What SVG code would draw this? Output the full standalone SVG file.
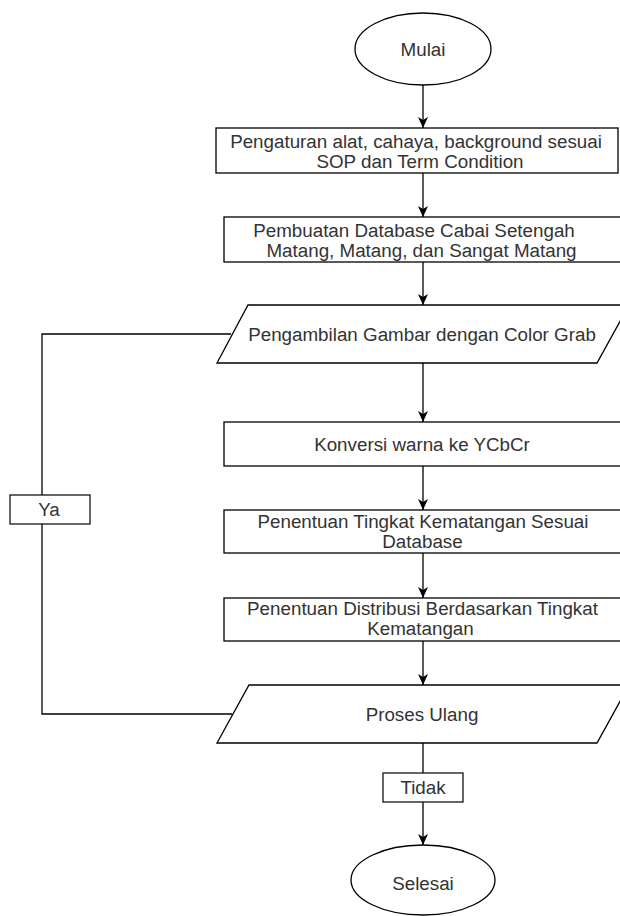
<svg xmlns="http://www.w3.org/2000/svg" width="620" height="916" viewBox="0 0 620 916">
<style>
  .shape { fill: #fff; stroke: #000; stroke-width: 1.3; }
  .lbl { fill: #fff; stroke: #000; stroke-width: 1.2; }
  .edge { fill: none; stroke: #000; stroke-width: 1.3; }
  text { font-family: "Liberation Sans", Arial, sans-serif; font-size: 18.8px; fill: #333; text-anchor: middle; }
</style>
<defs>
  <marker id="arrow" markerUnits="userSpaceOnUse" markerWidth="12" markerHeight="12" viewBox="0 0 12 10" refX="11" refY="5" orient="auto">
    <path d="M0,0 L11,5 L0,10 L3,5 z" fill="#000"/>
  </marker>
</defs>
<rect width="620" height="916" fill="#fff"/>
<g id="connectors">
  <line class="edge" x1="423" y1="85" x2="423" y2="128" marker-end="url(#arrow)"/>
  <line class="edge" x1="423" y1="173" x2="423" y2="217" marker-end="url(#arrow)"/>
  <line class="edge" x1="423" y1="262" x2="423" y2="305" marker-end="url(#arrow)"/>
  <line class="edge" x1="423" y1="363" x2="423" y2="422" marker-end="url(#arrow)"/>
  <line class="edge" x1="423" y1="466" x2="423" y2="510" marker-end="url(#arrow)"/>
  <line class="edge" x1="423" y1="553" x2="423" y2="598" marker-end="url(#arrow)"/>
  <line class="edge" x1="423" y1="641" x2="423" y2="685" marker-end="url(#arrow)"/>
  <line class="edge" x1="423" y1="743" x2="423" y2="845" marker-end="url(#arrow)"/>
  <polyline class="edge" points="232,714 42,714 42,334 231,334"/>
  <g id="label-ya">
    <rect class="lbl" x="10" y="495" width="80" height="29"/>
    <text x="49" y="515.5">Ya</text>
  </g>
  <g id="label-tidak">
    <rect class="lbl" x="383" y="773" width="80" height="29"/>
    <text x="423" y="793.5">Tidak</text>
  </g>
</g>
<g id="mulai">
  <ellipse class="shape" cx="423" cy="49" rx="68" ry="36"/>
  <text x="423" y="55.5">Mulai</text>
</g>
<g id="pengaturan">
  <rect class="shape" x="216" y="128" width="402" height="45"/>
  <text x="416" y="148">Pengaturan alat, cahaya, background sesuai</text>
  <text x="420" y="168">SOP dan Term Condition</text>
</g>
<g id="pembuatan">
  <rect class="shape" x="224" y="217" width="398" height="45"/>
  <text x="414" y="237">Pembuatan Database Cabai Setengah</text>
  <text x="421.5" y="257">Matang, Matang, dan Sangat Matang</text>
</g>
<g id="pengambilan">
  <polygon class="shape" points="248,305 629,305 597,363 217,363"/>
  <text x="422" y="340.5">Pengambilan Gambar dengan Color Grab</text>
</g>
<g id="konversi">
  <rect class="shape" x="224" y="422" width="398" height="44"/>
  <text x="422" y="450.5">Konversi warna ke YCbCr</text>
</g>
<g id="tingkat">
  <rect class="shape" x="224" y="510" width="398" height="43"/>
  <text x="423" y="528">Penentuan Tingkat Kematangan Sesuai</text>
  <text x="422.5" y="548">Database</text>
</g>
<g id="distribusi">
  <rect class="shape" x="224" y="598" width="398" height="43"/>
  <text x="422.5" y="615">Penentuan Distribusi Berdasarkan Tingkat</text>
  <text x="420.5" y="635">Kematangan</text>
</g>
<g id="proses-ulang">
  <polygon class="shape" points="249,685 629,685 597,743 217,743"/>
  <text x="422" y="720.5">Proses Ulang</text>
</g>
<g id="selesai">
  <ellipse class="shape" cx="423" cy="880" rx="72" ry="35"/>
  <text x="423" y="890">Selesai</text>
</g>
</svg>
